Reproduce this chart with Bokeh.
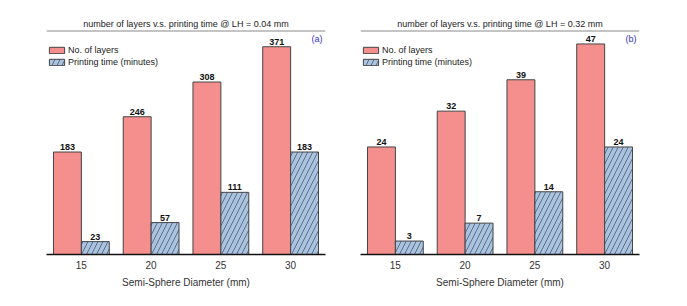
from bokeh.plotting import figure
from bokeh.models import ColumnDataSource, FactorRange, Range1d, Span, Label, Legend, LegendItem
from bokeh.transform import dodge
from bokeh.core.properties import value
from bokeh.layouts import row
from bokeh.embed import file_html
from bokeh.resources import INLINE

diameters = ["15", "20", "25", "30"]
layers_a = [183, 246, 308, 371]
time_a = [23, 57, 111, 183]
layers_b = [24, 32, 39, 47]
time_b = [3, 7, 14, 24]
title_a = "number of layers v.s. printing time @ LH = 0.04 mm"
title_b = "number of layers v.s. printing time @ LH = 0.32 mm"
tag_a = "(a)"
tag_b = "(b)"
ymax_a = 400
ymax_b = 50
series_names = ["No. of layers", "Printing time (minutes)"]
xlabel = "Semi-Sphere Diameter (mm)"

FONT = value("Liberation Sans")
PINK = "#F48F8D"
BLUE = "#A8C4E2"


def make(layers, times, title, tag, ymax, left, right):
    src = ColumnDataSource(dict(
        d=diameters, layers=layers, times=times,
        lt=[str(v) for v in layers], tt=[str(v) for v in times]))
    p = figure(x_range=FactorRange(*diameters, range_padding=0),
               y_range=Range1d(0, ymax),
               frame_width=279, frame_height=224,
               min_border_left=left, min_border_right=right,
               min_border_top=30, min_border_bottom=44,
               output_backend="svg", toolbar_location=None, title=title)
    p.outline_line_color = None
    p.grid.visible = False
    p.yaxis.visible = False
    p.background_fill_color = "white"

    p.title.align = "center"
    p.title.text_font = "Liberation Sans"
    p.title.text_font_size = "9px"
    p.title.text_font_style = "normal"
    p.title.text_color = "#222222"
    p.title.standoff = 3

    r1 = p.vbar(x=dodge("d", -0.2, range=p.x_range), top="layers", bottom=0, width=0.4,
                source=src, fill_color=PINK, line_color="#444444", line_width=1)
    r2 = p.vbar(x=dodge("d", 0.2, range=p.x_range), top="times", bottom=0, width=0.4,
                source=src, fill_color=BLUE, line_color="#444444", line_width=1,
                hatch_pattern="/", hatch_color="#333333", hatch_weight=0.6, hatch_scale=10)

    p.text(x=dodge("d", -0.2, range=p.x_range), y="layers", text="lt", source=src,
           text_align="center", text_baseline="bottom", y_offset=-2,
           text_font=FONT, text_font_style="bold", text_font_size="9px", text_color="#111111")
    p.text(x=dodge("d", 0.2, range=p.x_range), y="times", text="tt", source=src,
           text_align="center", text_baseline="bottom", y_offset=-2,
           text_font=FONT, text_font_style="bold", text_font_size="9px", text_color="#111111")

    p.add_layout(Span(location=ymax, dimension="width", line_color="#8a8a8a", line_width=2))
    p.add_layout(Label(x=4, y=ymax, x_offset=-3, y_offset=-3, text=tag,
                       text_align="right", text_baseline="top",
                       text_font="Liberation Sans", text_font_size="9px", text_color="#3333CC"))

    ax = p.xaxis[0]
    ax.axis_line_color = "#111111"
    ax.axis_line_width = 1.5
    ax.major_tick_line_color = None
    ax.major_tick_out = 0
    ax.major_tick_in = 0
    ax.minor_tick_line_color = None
    ax.major_label_text_font = "Liberation Sans"
    ax.major_label_text_font_size = "10px"
    ax.major_label_text_color = "#333333"
    ax.major_label_standoff = 6
    ax.axis_label = xlabel
    ax.axis_label_text_font = "Liberation Sans"
    ax.axis_label_text_font_size = "10px"
    ax.axis_label_text_font_style = "normal"
    ax.axis_label_text_color = "#333333"
    ax.axis_label_standoff = 5

    legend = Legend(items=[LegendItem(label=series_names[0], renderers=[r1]),
                           LegendItem(label=series_names[1], renderers=[r2])],
                    location=(1, 224 - 15 - 22), orientation="vertical",
                    border_line_color=None, background_fill_alpha=0,
                    padding=0, margin=0, spacing=2,
                    glyph_width=19, glyph_height=8, label_height=9,
                    label_standoff=2,
                    label_text_font="Liberation Sans", label_text_font_size="9px",
                    label_text_color="#222222")
    p.add_layout(legend)
    return p


p1 = make(layers_a, time_a, title_a, tag_a, ymax_a, 46, 18)
p2 = make(layers_b, time_b, title_b, tag_b, ymax_b, 17, 30)
layout = row(p1, p2)

open("out.html", "w").write(file_html(layout, INLINE))
